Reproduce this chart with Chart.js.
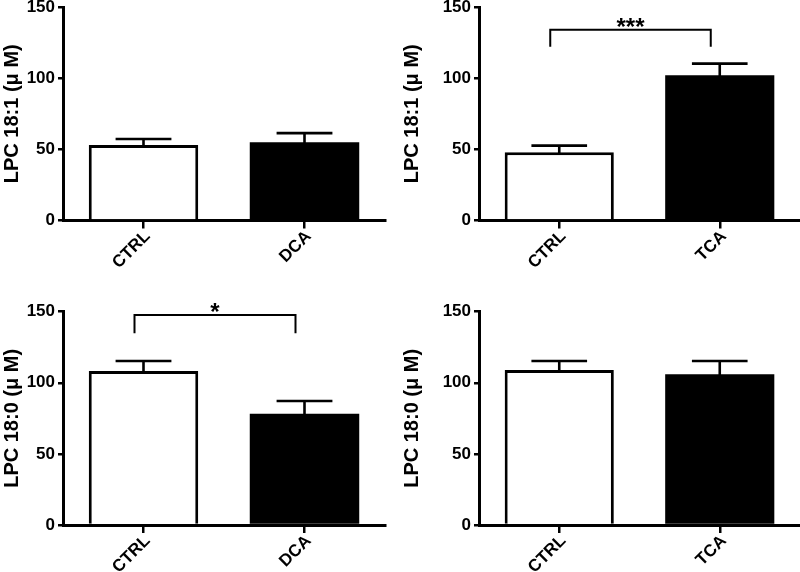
<!DOCTYPE html>
<html>
<head>
<meta charset="utf-8">
<script src="https://cdn.jsdelivr.net/npm/chart.js@4.4.1/dist/chart.umd.min.js"></script>
<style>
  html, body { margin: 0; padding: 0; background: #fff; }
  #wrap { position: relative; width: 800px; height: 572px; overflow: hidden; }
  .panel { position: absolute; width: 400px; }
  .panel canvas { display: block; }
</style>
</head>
<body>
<div id="wrap">
  <div class="panel" style="left:0;top:0;height:288px"><canvas id="c1"></canvas></div>
  <div class="panel" style="left:400px;top:0;height:288px"><canvas id="c2"></canvas></div>
  <div class="panel" style="left:0;top:288px;height:284px"><canvas id="c3"></canvas></div>
  <div class="panel" style="left:400px;top:288px;height:284px"><canvas id="c4"></canvas></div>
</div>
<script>
// ---- data ----
const categoriesDCA = ['CTRL', 'DCA'];
const categoriesTCA = ['CTRL', 'TCA'];
const yTickValues = [0, 50, 100, 150];

const titleLPC181 = 'LPC 18:1 (\u03bc M)';
const titleLPC180 = 'LPC 18:0 (\u03bc M)';

const meanDCA181 = [53, 55];
const semDCA181  = [4.3, 6.4];

const meanTCA181 = [48, 102];
const semTCA181  = [4.6, 8.2];

const meanDCA180 = [108.3, 78.3];
const semDCA180  = [7.0, 8.9];

const meanTCA180 = [109, 106];
const semTCA180  = [6.3, 9.3];

// significance brackets: [label, bracket value, leg end value]
const sigTCA181 = ['***', 134, 122];
const sigDCA180 = ['*', 147.7, 134.8];

// ---- drawing ----
const FONT = '"Liberation Sans", Arial, Helvetica, sans-serif';

const errorBarPlugin = {
  id: 'errorBars',
  afterDatasetsDraw(chart, args, opts) {
    const ctx = chart.ctx;
    const meta = chart.getDatasetMeta(0);
    const ys = chart.scales.y;
    const errs = opts.errors || [];
    const vals = chart.data.datasets[0].data;
    ctx.save();
    ctx.strokeStyle = '#000';
    ctx.lineWidth = 2.6;
    ctx.lineCap = 'butt';
    meta.data.forEach((bar, i) => {
      const x = bar.x;
      const yTop = ys.getPixelForValue(vals[i]);
      const yCap = ys.getPixelForValue(vals[i] + errs[i]);
      const half = bar.width * 0.255;
      ctx.beginPath();
      ctx.moveTo(x, yTop + 1);
      ctx.lineTo(x, yCap);
      ctx.moveTo(x - half, yCap);
      ctx.lineTo(x + half, yCap);
      ctx.stroke();
    });
    const sig = opts.sig;
    if (sig) {
      const xs = chart.scales.x;
      const x1 = xs.getPixelForValue(0) - 9;
      const x2 = xs.getPixelForValue(1) - 9;
      const yb = ys.getPixelForValue(sig[1]);
      const yl = ys.getPixelForValue(sig[2]);
      ctx.lineWidth = 2;
      ctx.beginPath();
      ctx.moveTo(x1, yl);
      ctx.lineTo(x1, yb);
      ctx.lineTo(x2, yb);
      ctx.lineTo(x2, yl);
      ctx.stroke();
      ctx.fillStyle = '#000';
      ctx.font = 'bold 24px ' + FONT;
      ctx.textAlign = 'center';
      ctx.textBaseline = 'alphabetic';
      ctx.fillText(sig[0], (x1 + x2) / 2, yb + 5);
    }
    ctx.restore();
  }
};

function makeChart(id, cats, means, sems, title, sig, geom) {
  const el = document.getElementById(id);
  return new Chart(el, {
    type: 'bar',
    data: {
      labels: cats,
      datasets: [{
        data: means,
        backgroundColor: ['#ffffff', '#000000'],
        borderColor: '#000000',
        borderWidth: [3, 0],
        borderSkipped: 'start',
        inflateAmount: 0,
        barPercentage: 0.68,
        categoryPercentage: 1.0
      }]
    },
    options: {
      responsive: true,
      maintainAspectRatio: false,
      animation: false,
      devicePixelRatio: 1,
      layout: { padding: { top: geom.top, right: geom.right, left: 0, bottom: 0 } },
      plugins: {
        legend: { display: false },
        tooltip: { enabled: false },
        errorBars: { errors: sems, sig: sig }
      },
      scales: {
        x: {
          offset: true,
          grid: {
            display: true, drawOnChartArea: false, offset: false,
            tickLength: 8, color: '#000', lineWidth: 2.5
          },
          border: { display: true, color: '#000', width: 3 },
          ticks: {
            color: '#000', font: { family: FONT, size: 17, weight: 'bold' },
            maxRotation: 45, minRotation: 45, padding: -2, labelOffset: 4
          },
          afterFit(scale) {
            scale.height = geom.xHeight;
            scale.paddingLeft = 0; scale.paddingRight = 0;
          }
        },
        y: {
          min: 0, max: 150,
          afterBuildTicks(scale) { scale.ticks = yTickValues.map(v => ({ value: v })); },
          grid: {
            display: true, drawOnChartArea: false,
            tickLength: 5, color: '#000', lineWidth: 2.5
          },
          border: { display: true, color: '#000', width: 3 },
          ticks: {
            color: '#000', font: { family: FONT, size: 17, weight: 'bold' }, padding: 3
          },
          title: {
            display: true, text: title, color: '#000',
            font: { family: FONT, size: 20, weight: 'bold' },
            padding: { top: 0, bottom: 0 }
          },
          afterFit(scale) {
            scale.width = geom.yWidth;
            scale.paddingTop = 0; scale.paddingBottom = 0;
          }
        }
      }
    },
    plugins: [errorBarPlugin]
  });
}

makeChart('c1', categoriesDCA, meanDCA181, semDCA181, titleLPC181, null,
  { top: 7, right: 15, yWidth: 63, xHeight: 67.5 });
makeChart('c2', categoriesTCA, meanTCA181, semTCA181, titleLPC181, sigTCA181,
  { top: 7, right: 0, yWidth: 79, xHeight: 67.5 });
makeChart('c3', categoriesDCA, meanDCA180, semDCA180, titleLPC180, sigDCA180,
  { top: 23.7, right: 15, yWidth: 63, xHeight: 47 });
makeChart('c4', categoriesTCA, meanTCA180, semTCA180, titleLPC180, null,
  { top: 23.7, right: 0, yWidth: 79, xHeight: 47 });
</script>
</body>
</html>
